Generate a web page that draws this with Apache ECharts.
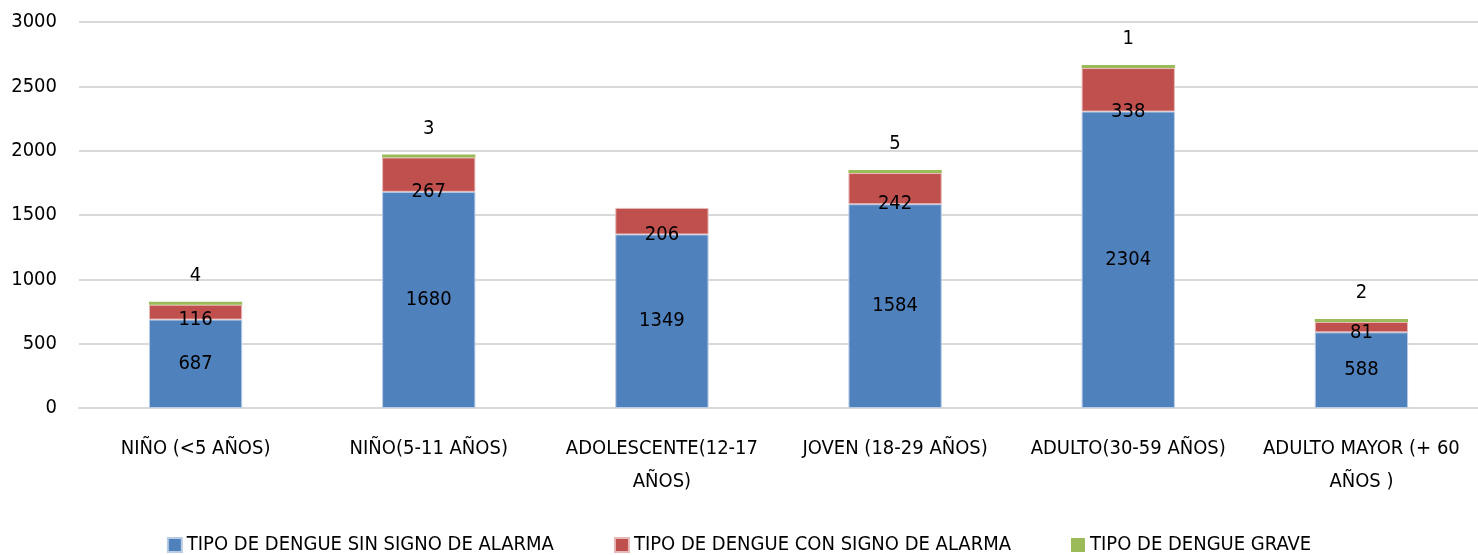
<!DOCTYPE html>
<html>
<head>
<meta charset="utf-8">
<script src="https://cdn.jsdelivr.net/npm/echarts@6/dist/echarts.min.js"></script>
<style>
  html, body { margin: 0; padding: 0; background: #fff; }
  #chart { width: 1478px; height: 555px; }
</style>
</head>
<body>
<div id="chart"></div>
<script>
// grupos de edad (salto de línea como en el original)
const categorias = ['NIÑO (<5 AÑOS)', 'NIÑO(5-11 AÑOS)', 'ADOLESCENTE(12-17\nAÑOS)',
  'JOVEN (18-29 AÑOS)', 'ADULTO(30-59 AÑOS)', 'ADULTO MAYOR (+ 60\nAÑOS )']

const sinSigno = [687, 1680, 1349, 1584, 2304, 588]
const conSigno = [116, 267, 206, 242, 338, 81]
const grave = [4, 3, '-', 5, 1, 2]

const nombres = ['TIPO DE DENGUE SIN SIGNO DE ALARMA', 'TIPO DE DENGUE CON SIGNO DE ALARMA', 'TIPO DE DENGUE GRAVE']

const fuente = '"Liberation Sans Narrow", "DejaVu Sans Condensed", "Liberation Sans", sans-serif'

const chart = echarts.init(document.getElementById('chart'))

const etiqueta = {
  show: true,
  color: '#000',
  fontSize: 20,
  fontFamily: fuente
}

const option = {
  animation: false,
  color: ['#4F81BD', '#C0504D', '#9BBB59'],
  textStyle: { fontFamily: fuente },
  grid: { left: 79, right: 0, top: 22, bottom: 147 },
  legend: {
    top: 530,
    itemWidth: 14,
    itemHeight: 14,
    itemGap: 60,
    icon: 'rect',
    textStyle: { fontSize: 20, color: '#000', fontFamily: fuente },
    data: nombres
  },
  xAxis: {
    type: 'category',
    data: categorias,
    axisLine: { lineStyle: { color: '#d9d9d9', width: 2 } },
    axisTick: { show: false },
    axisLabel: {
      color: '#000',
      fontSize: 20,
      fontFamily: fuente,
      margin: 24,
      lineHeight: 33,
      interval: 0
    }
  },
  yAxis: {
    type: 'value',
    min: 0,
    max: 3000,
    interval: 500,
    axisLine: { show: false },
    axisTick: { show: false },
    splitLine: { lineStyle: { color: '#d9d9d9', width: 2 } },
    axisLabel: {
      color: '#000',
      fontSize: 20,
      fontFamily: fuente,
      margin: 22,
      formatter: v => String(v)
    }
  },
  series: [
    {
      name: nombres[0],
      type: 'bar',
      stack: 'total',
      barWidth: '40%',
      data: sinSigno,
      itemStyle: { borderColor: '#b8cce4', borderWidth: 1 },
      label: Object.assign({ position: 'inside' }, etiqueta)
    },
    {
      name: nombres[1],
      type: 'bar',
      stack: 'total',
      data: conSigno,
      itemStyle: { borderColor: '#e6b9b8', borderWidth: 1 },
      label: Object.assign({ position: 'insideBottom', offset: [0, 15] }, etiqueta)
    },
    {
      name: nombres[2],
      type: 'bar',
      stack: 'total',
      data: grave,
      barMinHeight: 3,
      label: Object.assign({ position: 'top', distance: 16 }, etiqueta)
    }
  ]
}

chart.setOption(option)
</script>
</body>
</html>
